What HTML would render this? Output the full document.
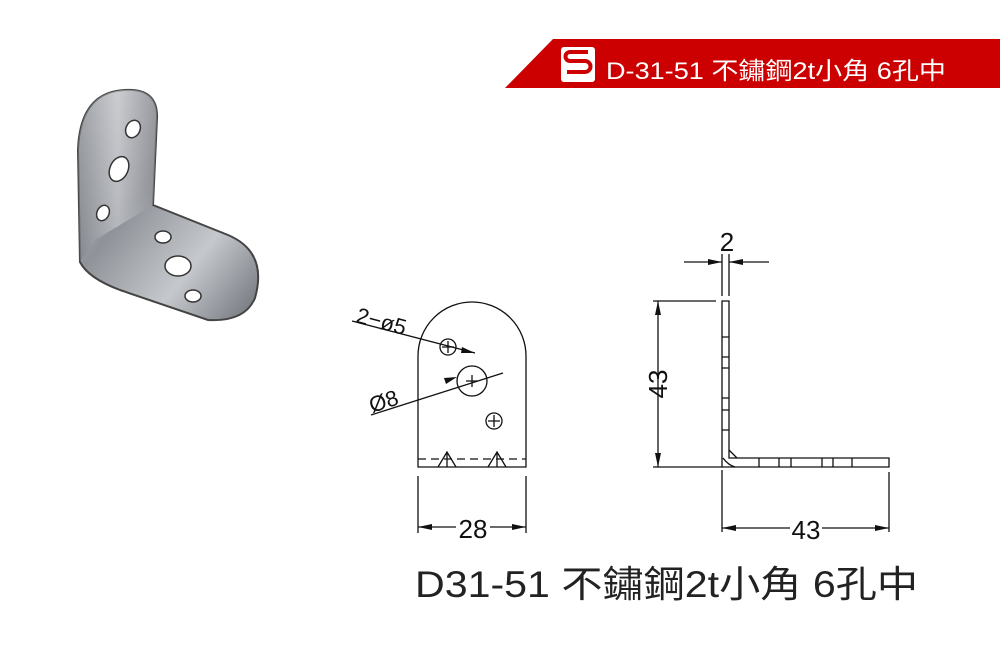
<!DOCTYPE html>
<html><head><meta charset="utf-8"><style>
html,body{margin:0;padding:0;background:#fff;}
svg{display:block;}
</style></head><body>
<svg width="1000" height="667" viewBox="0 0 1000 667" xmlns="http://www.w3.org/2000/svg">
<defs>
<linearGradient id="m1" x1="0" y1="0" x2="1" y2="1">
<stop offset="0" stop-color="#d8dadc"/><stop offset="0.4" stop-color="#8f9298"/><stop offset="0.7" stop-color="#c5c8cc"/><stop offset="1" stop-color="#6d7078"/></linearGradient>
<linearGradient id="m2" x1="0" y1="0" x2="1" y2="0">
<stop offset="0" stop-color="#7a7d84"/><stop offset="0.5" stop-color="#d0d2d6"/><stop offset="1" stop-color="#8a8c92"/></linearGradient>
</defs>
<polygon points="553,39 1000,39 1000,88 505,88" fill="#cc0000"/>
<rect x="561" y="47" width="34" height="35" rx="3" fill="#fff"/>
<path d="M588,52 H570 a4,4 0 0 0 0,9 H585 a5,5 0 0 1 0,11 H567" stroke="#cc0000" stroke-width="4" fill="none"/>
<text x="606" y="79" fill="#fff" font-family="Liberation Sans, Noto Sans CJK TC, sans-serif" font-size="24" textLength="340" lengthAdjust="spacingAndGlyphs">D-31-51 不鏽鋼2t小角 6孔中</text>
<path d="M78,150 Q80,92 125,90 Q158,88 157,118 L153,205 L228,235 Q268,252 255,298 Q245,322 208,320 L120,290 Q88,278 80,262 Z" fill="url(#m1)" stroke="#444" stroke-width="2"/>
<path d="M78,150 Q80,92 125,90 Q158,88 157,118 L153,205 L95,240 L80,262 Z" fill="url(#m2)" opacity="0.6"/>
<g fill="#fff" stroke="#333" stroke-width="1.5">
<ellipse cx="133" cy="129" rx="7" ry="9" transform="rotate(25 133 129)"/>
<ellipse cx="119" cy="169" rx="9" ry="13" transform="rotate(25 119 169)"/>
<ellipse cx="103" cy="213" rx="6" ry="8" transform="rotate(25 103 213)"/>
<ellipse cx="163" cy="237" rx="8" ry="6"/>
<ellipse cx="178" cy="266" rx="13" ry="10"/>
<ellipse cx="193" cy="296" rx="8" ry="6"/>
</g>
<g stroke="#111" stroke-width="1.3" fill="none">
<path d="M418,467 V356 A54,54 0 0 1 526,356 V467 Z"/>
<line x1="418" y1="459" x2="526" y2="459" stroke-dasharray="8,5"/>
<path d="M438,467 L447,452 L456,467 M447,452 V467 M488,467 L497,452 L506,467 M497,452 V467"/>
<circle cx="448" cy="347" r="8"/><path d="M442,347 h12 M448,341 v12"/>
<circle cx="472" cy="381" r="15"/><path d="M466,381 h12 M472,375 v12"/>
<circle cx="494" cy="421" r="8"/><path d="M488,421 h12 M494,415 v12"/>
<line x1="352" y1="321" x2="475" y2="353"/>
<line x1="371" y1="415" x2="503" y2="373"/>
<line x1="418" y1="476" x2="418" y2="533"/><line x1="526" y1="476" x2="526" y2="533"/>
<line x1="418" y1="527" x2="456" y2="527"/><line x1="490" y1="527" x2="526" y2="527"/>
<path d="M722,301 H729 V458 H889 V467 H722 Z"/>
<path d="M722,337 h7 M722,357 h7 M722,368 h7 M722,398 h7 M722,410 h7 M722,430 h7 M759,458 v9 M779,458 v9 M791,458 v9 M822,458 v9 M833,458 v9 M852,458 v9 M729,450 L737,458 M723,458 Q728,465 735,467"/>
<line x1="722" y1="254" x2="722" y2="296"/><line x1="729" y1="254" x2="729" y2="296"/>
<line x1="684" y1="262" x2="722" y2="262"/><line x1="729" y1="262" x2="769" y2="262"/>
<line x1="653" y1="301" x2="716" y2="301"/><line x1="653" y1="467" x2="722" y2="467"/>
<line x1="658" y1="301" x2="658" y2="467"/>
<line x1="722" y1="470" x2="722" y2="532"/><line x1="889" y1="472" x2="889" y2="532"/>
<line x1="722" y1="528" x2="790" y2="528"/><line x1="822" y1="528" x2="889" y2="528"/>
</g>
<g fill="#111">
<polygon points="418,527 432,524 432,530"/><polygon points="526,527 512,524 512,530"/>
<polygon points="722,262 708,259 708,265"/><polygon points="729,262 743,259 743,265"/>
<polygon points="658,301 655,315 661,315"/><polygon points="658,467 655,453 661,453"/>
<polygon points="722,528 736,525 736,531"/><polygon points="889,528 875,525 875,531"/>
<polygon points="475,353 462,347 461,353"/><polygon points="457,377 444,378 446,384"/>
</g>
<g fill="#111" font-family="Liberation Sans, sans-serif" font-size="26">
<text x="473" y="538" text-anchor="middle">28</text>
<text x="806" y="539" text-anchor="middle">43</text>
<text x="727" y="251" text-anchor="middle">2</text>
<text transform="translate(667,384) rotate(-90)" text-anchor="middle">43</text>
<text transform="translate(355,322) rotate(15)" font-size="22">2−ø5</text>
<text transform="translate(372,413) rotate(-18)" font-size="22">Ø8</text>
</g>
<text x="415" y="597" fill="#222" font-family="Liberation Sans, Noto Sans CJK TC, sans-serif" font-size="37" textLength="503" lengthAdjust="spacingAndGlyphs">D31-51 不鏽鋼2t小角 6孔中</text>
</svg>
</body></html>
